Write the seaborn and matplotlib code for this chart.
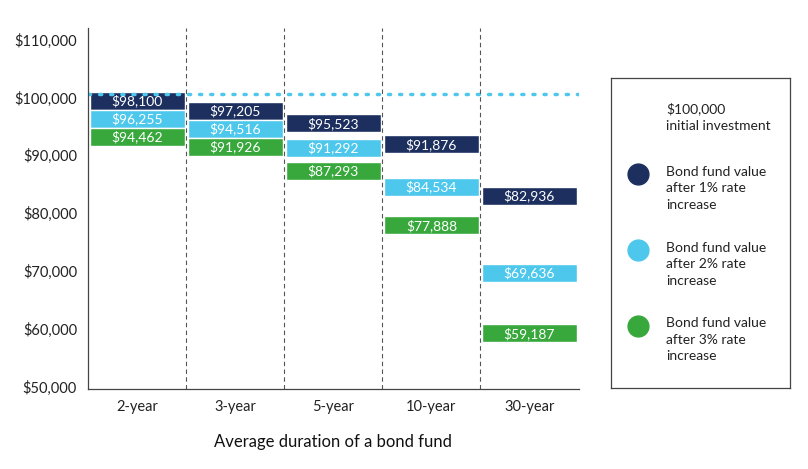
import numpy as np
import seaborn as sns
import matplotlib.pyplot as plt

durations = ['2-year', '3-year', '5-year', '10-year', '30-year']
rate_1pct = [98100, 97205, 95523, 91876, 82936]
rate_2pct = [96255, 94516, 91292, 84534, 69636]
rate_3pct = [94462, 91926, 87293, 77888, 59187]
initial = 100000
yticks = [50000, 60000, 70000, 80000, 90000, 100000, 110000]

navy, light, green = '#1c2f5e', '#4dc8ec', '#38a83c'
colors = [navy, light, green]

sns.set_style('white')
plt.rcParams['font.family'] = ['Lato', 'DejaVu Sans']

fig = plt.figure(figsize=(8.08, 4.69), dpi=100)
ax = fig.add_axes([0.109, 0.17, 0.607, 0.77])

x = np.arange(len(durations))
band = 3100
table = np.array([rate_1pct, rate_2pct, rate_3pct]).T  # rows: durations

for xi, vals in zip(x, table):
    # where bands would overlap, spread them evenly around their mean
    centers = vals.astype(float)
    if np.any(-np.diff(centers) < band):
        centers = vals.mean() + band * np.array([1, 0, -1])
    for v, c, col in zip(vals, centers, colors):
        ax.bar(xi, band, bottom=c - band / 2, width=0.97, color=col)
        ax.text(xi, c, f'${v:,.0f}', ha='center', va='center', color='white', fontsize=10)

ax.axhline(initial + 600, color=light, lw=2.5, ls=(0, (0.6, 2.6)), dash_capstyle='round')
for b in x[:-1] + 0.5:
    ax.axvline(b, color='#555555', lw=0.8, ls=(0, (4, 3)))

ax.set_xlim(-0.5, len(durations) - 0.5)
ax.set_ylim(49500, 112000)
ax.set_yticks(yticks)
ax.set_yticklabels([f'${t:,}' for t in yticks], fontsize=10.5, color='#222222')
ax.set_xticks(x)
ax.set_xticklabels(durations, fontsize=10.5, color='#222222')
ax.tick_params(length=0, pad=8)
for s in ['top', 'right']:
    ax.spines[s].set_visible(False)
for s in ['left', 'bottom']:
    ax.spines[s].set_color('#444444')
    ax.spines[s].set_linewidth(0.9)
ax.set_xlabel('Average duration of a bond fund', fontsize=12, color='#111111', labelpad=14)

# legend panel
lg = fig.add_axes([0.756, 0.173, 0.222, 0.66])
lg.set_xlim(0, 1)
lg.set_ylim(0, 1)
lg.set_xticks([])
lg.set_yticks([])
for s in lg.spines.values():
    s.set_color('#444444')
    s.set_linewidth(0.9)
entries = [(None, '$100,000\ninitial investment', 0.875),
           (navy, 'Bond fund value\nafter 1% rate\nincrease', 0.645),
           (light, 'Bond fund value\nafter 2% rate\nincrease', 0.4),
           (green, 'Bond fund value\nafter 3% rate\nincrease', 0.155)]
for col, label, yy in entries:
    if col:
        lg.plot(0.15, yy + 0.045, 'o', ms=15, color=col)
    lg.text(0.31, yy, label, va='center', ha='left', fontsize=10, color='#222222', linespacing=1.45)

fig.savefig('out.png', dpi=100)
